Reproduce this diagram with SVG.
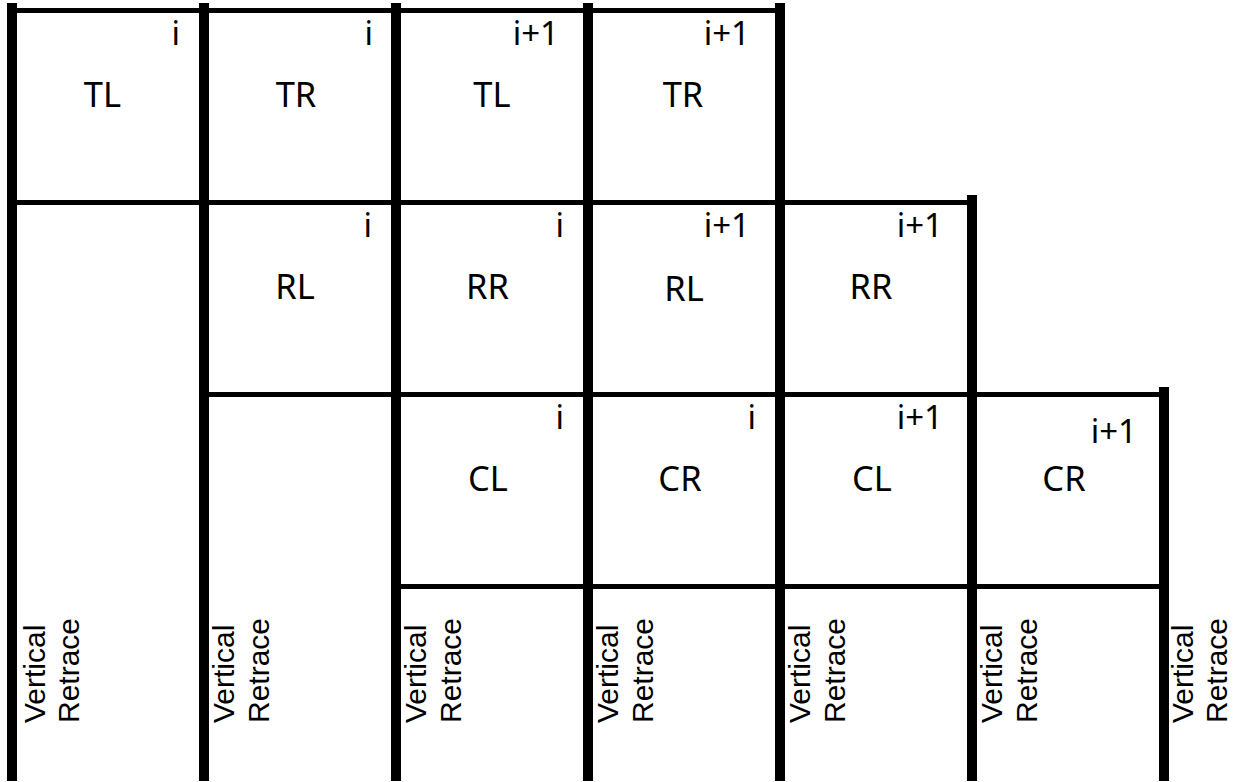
<svg xmlns="http://www.w3.org/2000/svg" width="1243" height="782" viewBox="0 0 1243 782">
<style>
.v{stroke:#000;stroke-width:10;fill:none}
.h{stroke:#000;stroke-width:5;fill:none}
.lbl{font-family:"Noto Sans","Open Sans",sans-serif;font-size:34.5px;fill:#000;text-anchor:middle}
.idx{font-family:"Noto Sans","Open Sans",sans-serif;font-size:33px;fill:#000;text-anchor:end}
.vr{font-family:"Liberation Sans",Arial,sans-serif;font-size:30px;fill:#000}
</style>
<rect width="1243" height="782" fill="#fff"/>
<g id="connectors">
<line class="h" x1="12" y1="10.5" x2="780" y2="10.5"/>
<line class="h" x1="12" y1="202.5" x2="972" y2="202.5"/>
<line class="h" x1="204" y1="394.5" x2="1164" y2="394.5"/>
<line class="h" x1="396" y1="586.5" x2="1164" y2="586.5"/>
<line class="v" x1="12" y1="3" x2="12" y2="781"/>
<line class="v" x1="204" y1="3" x2="204" y2="781"/>
<line class="v" x1="396" y1="3" x2="396" y2="781"/>
<line class="v" x1="588" y1="3" x2="588" y2="781"/>
<line class="v" x1="780" y1="3" x2="780" y2="781"/>
<line class="v" x1="972" y1="195" x2="972" y2="781"/>
<line class="v" x1="1164" y1="387" x2="1164" y2="781"/>
</g>
<g id="r1c1"><text class="idx" x="180" y="45">i</text><text class="lbl" x="102.5" y="107">TL</text></g>
<g id="r1c2"><text class="idx" x="373" y="45">i</text><text class="lbl" x="296" y="107">TR</text></g>
<g id="r1c3"><text class="idx" x="559" y="45">i+1</text><text class="lbl" x="492" y="107">TL</text></g>
<g id="r1c4"><text class="idx" x="750" y="45">i+1</text><text class="lbl" x="683" y="107">TR</text></g>
<g id="r2c2"><text class="idx" x="372" y="237">i</text><text class="lbl" x="295" y="299">RL</text></g>
<g id="r2c3"><text class="idx" x="564" y="237">i</text><text class="lbl" x="487.5" y="299">RR</text></g>
<g id="r2c4"><text class="idx" x="750" y="237">i+1</text><text class="lbl" x="684" y="301">RL</text></g>
<g id="r2c5"><text class="idx" x="943" y="237">i+1</text><text class="lbl" x="871" y="299">RR</text></g>
<g id="r3c3"><text class="idx" x="564" y="429">i</text><text class="lbl" x="488" y="491">CL</text></g>
<g id="r3c4"><text class="idx" x="756" y="429">i</text><text class="lbl" x="680" y="491">CR</text></g>
<g id="r3c5"><text class="idx" x="943" y="429">i+1</text><text class="lbl" x="872" y="491">CL</text></g>
<g id="r3c6"><text class="idx" x="1137" y="443">i+1</text><text class="lbl" x="1064" y="491">CR</text></g>
<g id="vr1"><text class="vr" transform="translate(45,723) rotate(-90)">Vertical</text><text class="vr" transform="translate(79,723) rotate(-90)">Retrace</text></g>
<g id="vr2"><text class="vr" transform="translate(234,723) rotate(-90)">Vertical</text><text class="vr" transform="translate(269,723) rotate(-90)">Retrace</text></g>
<g id="vr3"><text class="vr" transform="translate(426,723) rotate(-90)">Vertical</text><text class="vr" transform="translate(461,723) rotate(-90)">Retrace</text></g>
<g id="vr4"><text class="vr" transform="translate(618,723) rotate(-90)">Vertical</text><text class="vr" transform="translate(653,723) rotate(-90)">Retrace</text></g>
<g id="vr5"><text class="vr" transform="translate(810,723) rotate(-90)">Vertical</text><text class="vr" transform="translate(845,723) rotate(-90)">Retrace</text></g>
<g id="vr6"><text class="vr" transform="translate(1002,723) rotate(-90)">Vertical</text><text class="vr" transform="translate(1037,723) rotate(-90)">Retrace</text></g>
<g id="vr7"><text class="vr" transform="translate(1193,723) rotate(-90)">Vertical</text><text class="vr" transform="translate(1227,723) rotate(-90)">Retrace</text></g>
</svg>
